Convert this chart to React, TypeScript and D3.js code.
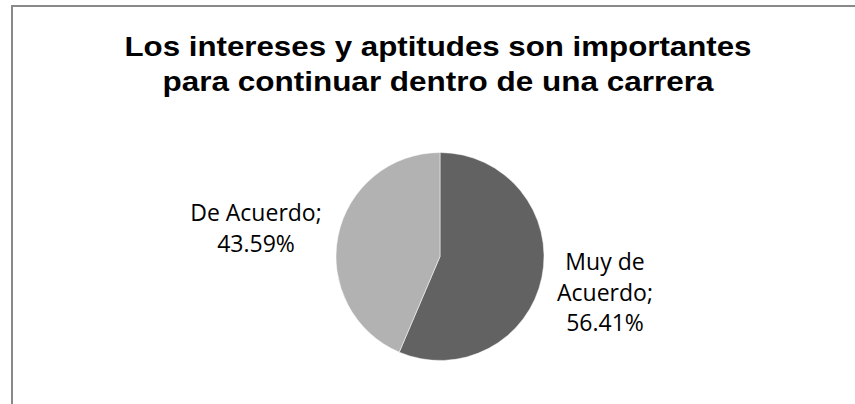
import React from "react";
import * as d3 from "d3";

const titleLines = ["Los intereses y aptitudes son importantes", "para continuar dentro de una carrera"];
const titleWidths = [627, 551];
const categories = ["Muy de Acuerdo", "De Acuerdo"];
const values = [56.41, 43.59];
const colors = ["#626262", "#b2b2b2"];
const labelLines = [["Muy de", "Acuerdo;", "56.41%"], ["De Acuerdo;", "43.59%"]];

const W = 855;
const H = 404;
const cx = 440;
const cy = 256.5;
const R = 104;

export default function App() {
  const pie = d3.pie<number>().sort(null).startAngle(0).endAngle(2 * Math.PI)(values);
  const arc = d3.arc<d3.PieArcDatum<number>>().innerRadius(0).outerRadius(R);
  const labelPos = [
    { x: 605, y: 270 },
    { x: 256, y: 221 },
  ];
  return (
    <svg width={W} height={H} style={{ position: "absolute", left: 0, top: 0 }}>
      <rect x={0} y={0} width={W} height={H} fill="#ffffff" />
      <rect x={12} y={6} width={W + 20} height={H + 20} fill="none" stroke="#898989" strokeWidth={2} />
      <g fontFamily="'Liberation Sans', Arial, sans-serif" fontWeight="bold" fontSize={27.5} textAnchor="middle" fill="#000">
        {titleLines.map((t, i) => (
          <text key={i} x={438} y={56 + i * 34.5} textLength={titleWidths[i]} lengthAdjust="spacingAndGlyphs">{t}</text>
        ))}
      </g>
      <g transform={`translate(${cx},${cy})`}>
        {pie.map((d, i) => (
          <path key={categories[i]} d={arc(d) || ""} fill={colors[i]} stroke="#ffffff" strokeWidth={0.5} />
        ))}
      </g>
      <g fontFamily="'Open Sans', sans-serif" fontSize={23} textAnchor="middle" fill="#000">
        {labelLines.map((lines, i) => (
          <text key={i}>
            {lines.map((l, j) => (
              <tspan key={j} x={labelPos[i].x} y={labelPos[i].y + j * 30.5}>{l}</tspan>
            ))}
          </text>
        ))}
      </g>
    </svg>
  );
}
